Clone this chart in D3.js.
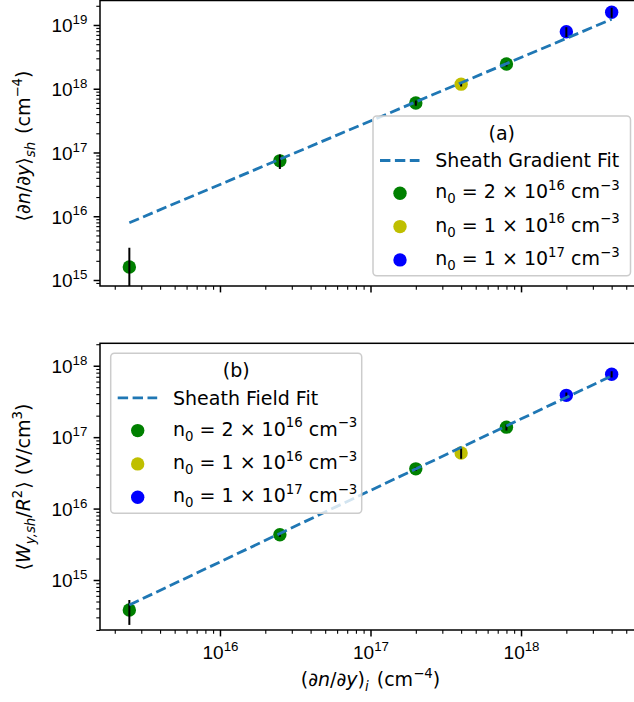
<!DOCTYPE html>
<html>
<head>
<meta charset="utf-8">
<script src="https://cdn.jsdelivr.net/npm/d3@7"></script>
<style>
  body { margin: 0; background: #fff; }
  svg { display: block; font-family: "DejaVu Sans", sans-serif; }
</style>
</head>
<body>
<svg id="chart" width="634" height="702"></svg>
<script>
// Initial density gradient (cm^-4) for each simulation
const gradient = [2.5e15, 2.5e16, 2e17, 4e17, 8e17, 2e18, 4e18];
// Background density group of each simulation
const densityGroup = ["2e16", "2e16", "2e16", "1e16", "2e16", "1e17", "1e17"];

// Panel (a): sheath density gradient and its uncertainty
const sheathGradient = [1.6e15, 7.4e16, 5.97e17, 1.18e18, 2.44e18, 7.85e18, 1.58e19];
const sheathGradientErr = [1.6e15, 1.9e16, 5.5e16, 1.0e17, 2.0e17, 1.4e18, 2.8e18];

// Panel (b): sheath field over R^2 and its uncertainty
const sheathField = [3.8e14, 4.3e15, 3.6e16, 6.0e16, 1.38e17, 3.85e17, 7.6e17];
const sheathFieldErr = [1.45e14, 2.8e14, 2.3e15, 1.0e16, 1.4e16, 3.8e16, 7.5e16];

// Power-law fits, evaluated at the ends of the gradient range
const fitX = [2.5e15, 4e18];
const gradientFitY = [7.92e15, 1.23e19];
const fieldFitY = [4.47e14, 7.2e17];

// Legend entries: n0 = mantissa x 10^exponent cm^-3
const densityKeys = ["2e16", "1e16", "1e17"];
const densityMantissa = ["2", "1", "1"];
const densityExponent = ["16", "16", "17"];
const densityColors = ["green", "#bfbf00", "blue"];

const colorOf = d3.scaleOrdinal().domain(densityKeys).range(densityColors);

const FS = 19;
const svg = d3.select("#chart");

// Appends mathtext-like runs (italic, subscript, superscript) to a text node
function rich(sel, parts, size) {
  let shift = 0;
  parts.forEach(p => {
    const ts = sel.append("tspan").text(p.t);
    let target = 0;
    if (p.sup) target = -0.43 * size;
    else if (p.sub) target = 0.26 * size;
    if (target !== shift) ts.attr("dy", target - shift);
    shift = target;
    if (p.sup || p.sub) ts.attr("font-size", size * 0.7);
    if (p.it) ts.attr("font-style", "italic");
    if (p.dx) ts.attr("dx", p.dx);
  });
  return sel;
}

const x = d3.scaleLog().domain([10 ** 15.203, 10 ** 18.797]).range([100, 641]);

const panels = [
  {
    top: 0.5, bottom: 286,
    domain: [10 ** 14.906, 10 ** 19.384],
    values: sheathGradient, errors: sheathGradientErr, fitY: gradientFitY,
    xLabels: false,
    ylabel: [{t: "\u27E8\u2202"}, {t: "n", it: 1}, {t: "/\u2202"}, {t: "y", it: 1}, {t: "\u27E9"},
             {t: "sh", it: 1, sub: 1}, {t: " (cm", dx: 2}, {t: "\u22124", sup: 1}, {t: ")"}],
    ylabelY: 146,
    legend: {left: 373, top: 116, w: 257.5, h: 159.7, title: "(a)", fit: "Sheath Gradient Fit"}
  },
  {
    top: 343.3, bottom: 630,
    domain: [10 ** 14.30, 10 ** 18.314],
    values: sheathField, errors: sheathFieldErr, fitY: fieldFitY,
    xLabels: true,
    ylabel: [{t: "\u27E8"}, {t: "W", it: 1}, {t: "y,sh", it: 1, sub: 1}, {t: "/"}, {t: "R", it: 1},
             {t: "2", sup: 1}, {t: "\u27E9 (V/cm", dx: 1}, {t: "3", sup: 1}, {t: ")"}],
    ylabelY: 487,
    legend: {left: 110.7, top: 353.3, w: 251, h: 160, title: "(b)", fit: "Sheath Field Fit"}
  }
];

const isMajor = v => Math.abs(Math.log10(v) - Math.round(Math.log10(v))) < 1e-9;

panels.forEach((p, idx) => {
  const y = d3.scaleLog().domain(p.domain).range([p.bottom, p.top]);
  const g = svg.append("g");
  const clipId = "clip" + idx;
  svg.append("clipPath").attr("id", clipId).append("rect")
    .attr("x", 100).attr("y", p.top).attr("width", 541).attr("height", p.bottom - p.top);

  const plot = g.append("g").attr("clip-path", `url(#${clipId})`);

  // scatter markers
  plot.selectAll("circle.pt").data(gradient).join("circle")
    .attr("class", "pt")
    .attr("cx", d => x(d))
    .attr("cy", (d, i) => y(p.values[i]))
    .attr("r", 6.7)
    .attr("fill", (d, i) => colorOf(densityGroup[i]));

  // vertical error bars
  plot.selectAll("line.err").data(gradient).join("line")
    .attr("class", "err")
    .attr("x1", d => x(d)).attr("x2", d => x(d))
    .attr("y1", (d, i) => y(p.values[i] + p.errors[i]))
    .attr("y2", (d, i) => {
      const lo = p.values[i] - p.errors[i];
      return lo > 0 ? y(lo) : p.bottom + 20;
    })
    .attr("stroke", "black").attr("stroke-width", 2);

  // dashed power-law fit
  plot.append("path")
    .datum(fitX.map((v, i) => [v, p.fitY[i]]))
    .attr("d", d3.line().x(d => x(d[0])).y(d => y(d[1])))
    .attr("fill", "none").attr("stroke", "#1f77b4")
    .attr("stroke-width", 2.8).attr("stroke-dasharray", "10.4,4.5");

  // axes
  const yTicks = y.ticks();
  const xTicks = x.ticks();
  const yMaj = yTicks.filter(isMajor), yMin = yTicks.filter(v => !isMajor(v));
  const xMaj = xTicks.filter(isMajor), xMin = xTicks.filter(v => !isMajor(v));

  const styleAxis = (sel, w) => {
    sel.select(".domain").remove();
    sel.selectAll(".tick line").attr("stroke", "black").attr("stroke-width", w);
  };

  g.append("g").attr("transform", "translate(100,0)")
    .call(d3.axisLeft(y).tickValues(yMin).tickSize(3.7).tickFormat(""))
    .call(s => styleAxis(s, 1.1));
  const yAx = g.append("g").attr("transform", "translate(100,0)")
    .call(d3.axisLeft(y).tickValues(yMaj).tickSize(6.4).tickFormat(""))
    .call(s => styleAxis(s, 1.5));
  yAx.selectAll(".tick text").each(function(d) {
    const t = d3.select(this).attr("x", -12.6).attr("y", 6.8).attr("dy", null)
      .attr("fill", "black").attr("font-size", FS).attr("text-anchor", "end").text("");
    rich(t, [{t: "10"}, {t: String(Math.round(Math.log10(d))), sup: 1}], FS);
  });

  g.append("g").attr("transform", `translate(0,${p.bottom})`)
    .call(d3.axisBottom(x).tickValues(xMin).tickSize(3.7).tickFormat(""))
    .call(s => styleAxis(s, 1.1));
  const xAx = g.append("g").attr("transform", `translate(0,${p.bottom})`)
    .call(d3.axisBottom(x).tickValues(xMaj).tickSize(6.4).tickFormat(""))
    .call(s => styleAxis(s, 1.5));
  if (p.xLabels) {
    xAx.selectAll(".tick text").each(function(d) {
      const t = d3.select(this).attr("y", 29.3).attr("dy", null)
        .attr("fill", "black").attr("font-size", FS).attr("text-anchor", "middle").text("");
      rich(t, [{t: "10"}, {t: String(Math.round(Math.log10(d))), sup: 1}], FS);
    });
  }

  // frame
  g.append("rect").attr("x", 100).attr("y", p.top).attr("width", 541).attr("height", p.bottom - p.top)
    .attr("fill", "none").attr("stroke", "black").attr("stroke-width", 1.5);

  // y label
  const yl = g.append("text")
    .attr("transform", `translate(30,${p.ylabelY}) rotate(-90)`)
    .attr("text-anchor", "middle").attr("font-size", FS).attr("fill", "black");
  rich(yl, p.ylabel, FS);

  // legend
  const L = p.legend;
  const lg = g.append("g");
  lg.append("rect").attr("x", L.left).attr("y", L.top).attr("width", L.w).attr("height", L.h)
    .attr("rx", 3.7).attr("fill", "white").attr("fill-opacity", 0.8)
    .attr("stroke", "#cccccc").attr("stroke-width", 1.5);
  lg.append("text").attr("x", L.left + L.w / 2).attr("y", L.top + 24)
    .attr("text-anchor", "middle").attr("font-size", FS).text(L.title);
  const r0 = L.top + 44.5;
  lg.append("line").attr("x1", L.left + 7).attr("x2", L.left + 46.5).attr("y1", r0).attr("y2", r0)
    .attr("stroke", "#1f77b4").attr("stroke-width", 2.8).attr("stroke-dasharray", "10.4,4.5");
  lg.append("text").attr("x", L.left + 62.3).attr("y", r0 + 6.8).attr("font-size", FS).text(L.fit);
  densityKeys.forEach((k, i) => {
    const cy = L.top + 77.3 + 33.3 * i;
    lg.append("circle").attr("cx", L.left + 27).attr("cy", cy).attr("r", 6.7).attr("fill", colorOf(k));
    const t = lg.append("text").attr("x", L.left + 62.3).attr("y", cy + 5).attr("font-size", FS);
    rich(t, [{t: "n"}, {t: "0", sub: 1}, {t: " = " + densityMantissa[i] + " \u00D7 10"},
             {t: densityExponent[i], sup: 1}, {t: " cm"}, {t: "\u22123", sup: 1}], FS);
  });
});

// shared x label
const xl = svg.append("text").attr("x", 370.5).attr("y", 686)
  .attr("text-anchor", "middle").attr("font-size", FS).attr("fill", "black");
rich(xl, [{t: "(\u2202"}, {t: "n", it: 1}, {t: "/\u2202"}, {t: "y", it: 1}, {t: ")"},
          {t: "i", it: 1, sub: 1}, {t: " (cm", dx: 2}, {t: "\u22124", sup: 1}, {t: ")"}], FS);
</script>
</body>
</html>
